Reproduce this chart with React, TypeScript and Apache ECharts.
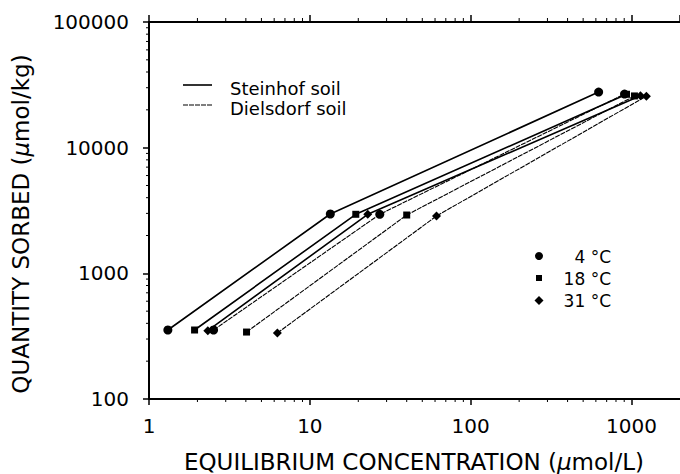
import React, { useEffect, useRef } from "react";
import * as echarts from "echarts";

// ---- data ----
const steinhof4 = [[1.31, 354], [13.4, 2965], [624, 27700]];
const steinhof18 = [[1.92, 354], [19.3, 2950], [930, 26600]];
const steinhof31 = [[2.32, 350], [22.9, 2950], [1135, 25900]];
const dielsdorf4 = [[2.52, 354], [27.2, 2950], [904, 26700]];
const dielsdorf18 = [[4.04, 341], [40.0, 2911], [1042, 25800]];
const dielsdorf31 = [[6.28, 335], [61.3, 2860], [1236, 25700]];

const xMinorTicks = [2, 3, 4, 5, 6, 7, 8, 9, 20, 30, 40, 50, 60, 70, 80, 90, 200, 300, 400, 500, 600, 700, 800, 900];
const yMinorTicks = [200, 300, 400, 500, 600, 700, 800, 900, 2000, 3000, 4000, 5000, 6000, 7000, 8000, 9000, 20000, 30000, 40000, 50000, 60000, 70000, 80000, 90000];

const X_MIN = 1;
const X_MAX = 2000;
const Y_MIN = 100;
const Y_MAX = 100000;

const FONT = "'DejaVu Sans', sans-serif";

const powerLabel = (v: number) => {
  const l = Math.log10(v);
  return Math.abs(l - Math.round(l)) < 1e-6 ? String(Math.round(v)) : "";
};

export default function App() {
  const ref = useRef<HTMLDivElement>(null);
  useEffect(() => {
    if (!ref.current) return;
    const chart = echarts.init(ref.current, null, { renderer: "svg" });

    const solid = { color: "#000", width: 1.6, type: "solid" as const };
    const dotted = { color: "#000", width: 1.1, type: [5, 1] as any };

    const mkLine = (name: string, data: number[][], symbol: string, size: number, style: any) => ({
      type: "line",
      name,
      data,
      symbol,
      symbolSize: size,
      showSymbol: true,
      lineStyle: style,
      itemStyle: { color: "#000", borderWidth: 0 },
      z: 3,
    });

    const tickSeries = (data: number[][], dir: "down" | "up" | "left", len: number) => ({
      type: "custom",
      silent: true,
      clip: false,
      data,
      renderItem: (params: any, api: any) => {
        const p = api.coord([api.value(0), api.value(1)]);
        let x2 = p[0], y2 = p[1];
        if (dir === "down") y2 += len;
        if (dir === "up") y2 -= len;
        if (dir === "left") x2 -= len;
        return {
          type: "line",
          shape: { x1: p[0], y1: p[1], x2, y2 },
          style: { stroke: "#000", lineWidth: 1 },
        };
      },
      z: 1,
    });

    chart.setOption({
      animation: false,
      backgroundColor: "#fff",
      grid: { left: 149, top: 22, width: 534, height: 377, containLabel: false },
      xAxis: [
        {
          type: "log",
          logBase: 10,
          min: X_MIN,
          max: X_MAX,
          interval: 1,
          position: "bottom",
          axisLine: { show: true, lineStyle: { color: "#000", width: 2 } },
          axisTick: { show: true, inside: false, length: 6, lineStyle: { color: "#000", width: 1.5 } },
          axisLabel: { show: true, formatter: powerLabel, color: "#000", fontSize: 20, fontFamily: FONT, margin: 17, showMaxLabel: false },
          splitLine: { show: false },
        },
        {
          type: "log",
          logBase: 10,
          min: X_MIN,
          max: X_MAX,
          interval: 1,
          position: "top",
          axisLine: { show: true, lineStyle: { color: "#000", width: 2 } },
          axisTick: { show: true, inside: false, length: 7, lineStyle: { color: "#000", width: 1.5 } },
          axisLabel: { show: false },
          splitLine: { show: false },
        },
      ],
      yAxis: [
        {
          type: "log",
          logBase: 10,
          min: Y_MIN,
          max: Y_MAX,
          interval: 1,
          position: "left",
          axisLine: { show: true, lineStyle: { color: "#000", width: 2 } },
          axisTick: { show: true, inside: false, length: 6, lineStyle: { color: "#000", width: 1.5 } },
          axisLabel: { show: true, formatter: powerLabel, color: "#000", fontSize: 20, fontFamily: FONT, margin: 20 },
          splitLine: { show: false },
        },
      ],
      series: [
        tickSeries(xMinorTicks.map((v) => [v, Y_MIN]), "down", 3),
        tickSeries(xMinorTicks.map((v) => [v, Y_MAX]), "up", 4),
        tickSeries(yMinorTicks.map((v) => [X_MIN, v]), "left", 3),
        mkLine("Steinhof soil 4 °C", steinhof4, "circle", 9, solid),
        mkLine("Steinhof soil 18 °C", steinhof18, "rect", 7, solid),
        mkLine("Steinhof soil 31 °C", steinhof31, "diamond", 9, solid),
        mkLine("Dielsdorf soil 4 °C", dielsdorf4, "circle", 9, dotted),
        mkLine("Dielsdorf soil 18 °C", dielsdorf18, "rect", 7, dotted),
        mkLine("Dielsdorf soil 31 °C", dielsdorf31, "diamond", 9, dotted),
      ],
      graphic: [
        // axis titles
        {
          type: "text",
          x: 414,
          y: 462,
          style: {
            text: "EQUILIBRIUM CONCENTRATION ({i|μ}mol/L)",
            font: `23px ${FONT}`,
            fill: "#000",
            align: "center",
            verticalAlign: "middle",
            rich: { i: { fontStyle: "italic", fontSize: 23, fontFamily: FONT } },
          },
        },
        {
          type: "text",
          x: 21,
          y: 224,
          rotation: Math.PI / 2,
          style: {
            text: "QUANTITY SORBED ({i|μ}mol/kg)",
            font: `23px ${FONT}`,
            fill: "#000",
            align: "center",
            verticalAlign: "middle",
            rich: { i: { fontStyle: "italic", fontSize: 23, fontFamily: FONT } },
          },
        },
        // soil legend
        { type: "line", shape: { x1: 183, y1: 85, x2: 212, y2: 85 }, style: { stroke: "#000", lineWidth: 1.6 } },
        { type: "text", x: 230, y: 88, style: { text: "Steinhof soil", font: `18px ${FONT}`, fill: "#000", verticalAlign: "middle" } },
        { type: "line", shape: { x1: 183, y1: 105, x2: 212, y2: 105 }, style: { stroke: "#000", lineWidth: 1.1, lineDash: [5, 1] } },
        { type: "text", x: 230, y: 108, style: { text: "Dielsdorf soil", font: `18px ${FONT}`, fill: "#000", verticalAlign: "middle" } },
        // temperature legend
        { type: "circle", shape: { cx: 539, cy: 256, r: 4 }, style: { fill: "#000" } },
        { type: "rect", shape: { x: 536, y: 275, width: 6, height: 6 }, style: { fill: "#000" } },
        { type: "polygon", shape: { points: [[539, 296], [543.5, 300.5], [539, 305], [534.5, 300.5]] }, style: { fill: "#000" } },
        { type: "text", x: 611, y: 257, style: { text: "4 °C", font: `17px ${FONT}`, fill: "#000", align: "right", verticalAlign: "middle" } },
        { type: "text", x: 611, y: 279, style: { text: "18 °C", font: `17px ${FONT}`, fill: "#000", align: "right", verticalAlign: "middle" } },
        { type: "text", x: 611, y: 301, style: { text: "31 °C", font: `17px ${FONT}`, fill: "#000", align: "right", verticalAlign: "middle" } },
      ],
    });
    return () => chart.dispose();
  }, []);
  return (
    <div
      ref={ref}
      style={{ position: "absolute", left: 0, top: 0, width: 680, height: 474, background: "#fff" }}
    />
  );
}
